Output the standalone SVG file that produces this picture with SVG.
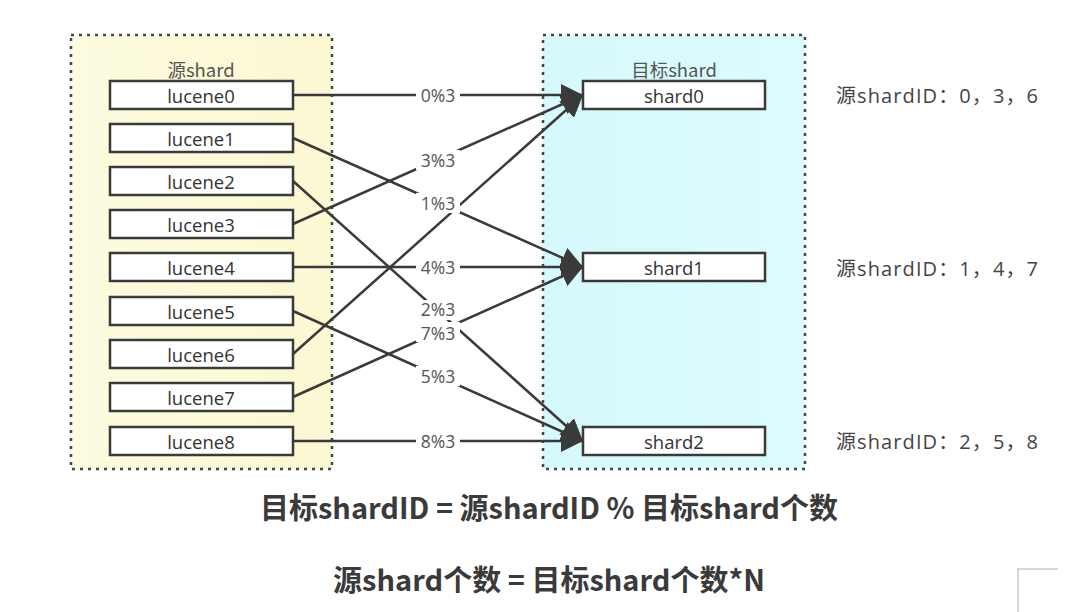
<svg xmlns="http://www.w3.org/2000/svg" width="1080" height="612" viewBox="0 0 1080 612">
<defs>
<linearGradient id="gy" x1="0" y1="0" x2="1" y2="0"><stop offset="0" stop-color="#fdfbe0"/><stop offset="1" stop-color="#fbf8d2"/></linearGradient>
<linearGradient id="gc" x1="0" y1="0" x2="1" y2="0"><stop offset="0" stop-color="#d6f9fb"/><stop offset="1" stop-color="#dcfbfd"/></linearGradient>
<marker id="ah" markerUnits="userSpaceOnUse" markerWidth="24" markerHeight="22" refX="22" refY="11" orient="auto"><path d="M0,0 L22,11 L0,22 Z" fill="#3a3a3a"/></marker>
<style>
.cont{stroke:#3f4a4a;stroke-width:2.5;stroke-dasharray:3 5}
.box{fill:#fff;stroke:#3a3a3a;stroke-width:2.5}
.bt{font-family:"Open Sans","Noto Sans",sans-serif;font-size:18.5px;fill:#333;text-anchor:middle;dominant-baseline:central}
.ct{font-family:"Noto Sans CJK SC","Open Sans",sans-serif;font-size:18.5px;fill:#555;text-anchor:middle}
.ln{stroke:#3a3a3a;stroke-width:2.5;fill:none;marker-end:url(#ah)}
.lb{font-family:"Open Sans","Noto Sans",sans-serif;font-size:17.5px;fill:#555;text-anchor:middle;dominant-baseline:central}
.lbg{fill:#fff}
.rt{font-family:"Open Sans","Noto Sans CJK SC",sans-serif;font-size:20px;fill:#444;dominant-baseline:central}
.ft{font-family:"Noto Sans CJK SC",sans-serif;font-size:29px;font-weight:bold;fill:#3a3a3a;text-anchor:middle;dominant-baseline:central}
</style>
</defs>
<rect width="1080" height="612" fill="#fff"/>
<g id="src-container">
<rect x="71" y="35" width="261" height="434" fill="url(#gy)" class="cont"/>
<text x="201" y="77" class="ct">源shard</text>
</g>
<g id="dst-container">
<rect x="543" y="35" width="262" height="434" fill="url(#gc)" class="cont"/>
<text x="674" y="77" class="ct">目标shard</text>
</g>
<g id="connectors">
<line class="ln" x1="293" y1="95" x2="583" y2="95"/>
<line class="ln" x1="293" y1="138" x2="583" y2="267"/>
<line class="ln" x1="293" y1="181" x2="583" y2="441"/>
<line class="ln" x1="293" y1="224" x2="583" y2="95"/>
<line class="ln" x1="293" y1="267" x2="583" y2="267"/>
<line class="ln" x1="293" y1="311" x2="583" y2="441"/>
<line class="ln" x1="293" y1="354" x2="583" y2="95"/>
<line class="ln" x1="293" y1="397" x2="583" y2="267"/>
<line class="ln" x1="293" y1="441" x2="583" y2="441"/>
<g id="labels">
<rect class="lbg" x="416" y="85" width="44" height="20"/><text class="lb" x="438" y="95">0%3</text>
<rect class="lbg" x="416" y="193" width="44" height="20"/><text class="lb" x="438" y="203">1%3</text>
<rect class="lbg" x="416" y="300" width="44" height="20"/><text class="lb" x="438" y="309">2%3</text>
<rect class="lbg" x="416" y="150" width="44" height="20"/><text class="lb" x="438" y="160">3%3</text>
<rect class="lbg" x="416" y="257" width="44" height="20"/><text class="lb" x="438" y="267">4%3</text>
<rect class="lbg" x="416" y="366" width="44" height="20"/><text class="lb" x="438" y="376">5%3</text>
<rect class="lbg" x="416" y="322" width="44" height="20"/><text class="lb" x="438" y="333">7%3</text>
<rect class="lbg" x="416" y="431" width="44" height="20"/><text class="lb" x="438" y="441">8%3</text>
</g>
</g>
<g id="lucene0"><rect class="box" x="110" y="81" width="183" height="28"/><text class="bt" x="201" y="95">lucene0</text></g>
<g id="lucene1"><rect class="box" x="110" y="124" width="183" height="28"/><text class="bt" x="201" y="138">lucene1</text></g>
<g id="lucene2"><rect class="box" x="110" y="167" width="183" height="28"/><text class="bt" x="201" y="181">lucene2</text></g>
<g id="lucene3"><rect class="box" x="110" y="210" width="183" height="28"/><text class="bt" x="201" y="224">lucene3</text></g>
<g id="lucene4"><rect class="box" x="110" y="253" width="183" height="28"/><text class="bt" x="201" y="267">lucene4</text></g>
<g id="lucene5"><rect class="box" x="110" y="297" width="183" height="28"/><text class="bt" x="201" y="311">lucene5</text></g>
<g id="lucene6"><rect class="box" x="110" y="340" width="183" height="28"/><text class="bt" x="201" y="354">lucene6</text></g>
<g id="lucene7"><rect class="box" x="110" y="383" width="183" height="28"/><text class="bt" x="201" y="397">lucene7</text></g>
<g id="lucene8"><rect class="box" x="110" y="427" width="183" height="28"/><text class="bt" x="201" y="441">lucene8</text></g>
<g id="shard0"><rect class="box" x="583" y="81" width="182" height="28"/><text class="bt" x="674" y="95">shard0</text></g>
<g id="shard1"><rect class="box" x="583" y="253" width="182" height="28"/><text class="bt" x="674" y="267">shard1</text></g>
<g id="shard2"><rect class="box" x="583" y="427" width="182" height="28"/><text class="bt" x="674" y="441">shard2</text></g>
<g id="notes">
<text class="rt" x="836" y="95" textLength="202" lengthAdjust="spacing">源shardID：0，3，6</text>
<text class="rt" x="836" y="268" textLength="202" lengthAdjust="spacing">源shardID：1，4，7</text>
<text class="rt" x="836" y="441" textLength="202" lengthAdjust="spacing">源shardID：2，5，8</text>
</g>
<g id="formulas">
<text class="ft" x="549" y="506">目标shardID = 源shardID % 目标shard个数</text>
<text class="ft" x="549" y="578">源shard个数 = 目标shard个数*N</text>
</g>
<path d="M1018,612 V569 H1058" fill="none" stroke="#ccc" stroke-width="1.5"/>
</svg>
